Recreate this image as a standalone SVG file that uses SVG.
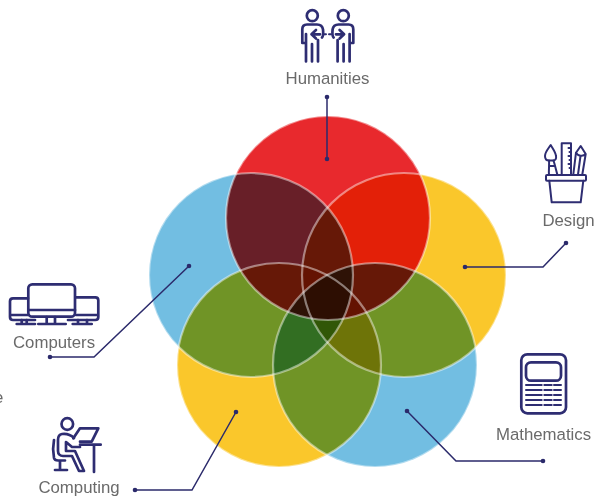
<svg xmlns="http://www.w3.org/2000/svg" width="604" height="497" viewBox="0 0 604 497">
<style>
.c{mix-blend-mode:multiply}
.edge{fill:none;stroke:#fff;stroke-opacity:.45;stroke-width:2.2}
.red{fill:#E8292D}.blue{fill:#72BEE2}.yel{fill:#FAC72B}
.lab{font-family:"Liberation Sans",Arial,sans-serif;font-size:16.8px;fill:#6A6A6A;text-anchor:middle}
.ic{fill:none;stroke:#2E2D72;stroke-width:2.7;stroke-linecap:round;stroke-linejoin:round}
.th{stroke-width:2}
.ln{fill:none;stroke:#2B2A6B;stroke-width:1.5}
.dot{fill:#2B2A6B}
</style>
<rect width="604" height="497" fill="#fff"/>
<g id="venn">
<circle class="c blue" cx="251" cy="275" r="102"/>
<circle class="c yel" cx="404" cy="275" r="102"/>
<circle class="c yel" cx="279" cy="365" r="102"/>
<circle class="c blue" cx="375" cy="365" r="102"/>
<circle class="c red" cx="328" cy="218" r="102"/>
<circle class="edge" cx="251" cy="275" r="102"/>
<circle class="edge" cx="404" cy="275" r="102"/>
<circle class="edge" cx="279" cy="365" r="102"/>
<circle class="edge" cx="375" cy="365" r="102"/>
<circle class="edge" cx="328" cy="218" r="102"/>
</g>
<g id="connectors">
<path class="ln" d="M327 97V159"/><circle class="dot" cx="327" cy="97" r="2.300"/><circle class="dot" cx="327" cy="159" r="2.300"/>
<path class="ln" d="M566 243L543 267H465"/><circle class="dot" cx="566" cy="243" r="2.300"/><circle class="dot" cx="465" cy="267" r="2.300"/>
<path class="ln" d="M50 357H94L189 266"/><circle class="dot" cx="50" cy="357" r="2.300"/><circle class="dot" cx="189" cy="266" r="2.300"/>
<path class="ln" d="M135 490H192L236 412"/><circle class="dot" cx="135" cy="490" r="2.300"/><circle class="dot" cx="236" cy="412" r="2.300"/>
<path class="ln" d="M543 461H456L407 411"/><circle class="dot" cx="543" cy="461" r="2.300"/><circle class="dot" cx="407" cy="411" r="2.300"/>
</g>
<g id="humanities">
<g class="ic">
<circle cx="312.300" cy="15.700" r="5.500"/><circle cx="343.300" cy="15.700" r="5.500"/>
<path d="M322 37.500C323.500 36 323.500 34 323 29.500C322.500 26 320 24.500 317 24.500H307C304 24.500 302.300 26.500 302.300 29.500V43H306M306 34V61.500M312 44V61.500M318 40V61.500"/>
<path d="M333.600 37.500C332.100 36 332.100 34 332.600 29.500C333.100 26 335.600 24.500 338.600 24.500H348.600C351.600 24.500 353.300 26.500 353.300 29.500V43H349.600M349.600 34V61.500M343.600 44V61.500M337.600 40V61.500"/>
<path d="M316 30L311.500 34.300L316 38.500M312 34.300H320M339.600 30L344.100 34.300L339.600 38.500M344 34.300H336"/>
<path class="th" d="M324 34.300H326M329 34.300H331"/>
</g>
<text class="lab" x="327.500" y="83.500">Humanities</text>
</g>
<g id="design">
<g class="ic th">
<rect x="546" y="175" width="40" height="5.700" rx="1"/>
<path d="M549.300 180.700L551.700 202.300H580.700L583.300 180.700"/>
<path d="M561.700 175V143.300H571V175M571 148H568.500M571 152H569.500M571 156H568.500M571 160H569.500M571 164H568.500M571 168H569.500"/>
<path d="M550.700 145C548 149 545 152 545 156C545 159.500 547 160.500 549 160.500H553C555.500 160.500 556.500 158.500 556 156C555.500 152 553 149 550.700 145Z"/>
<path d="M549 160.500C549.500 165 548.500 170 549 175M553.500 160.500C555 165 556 170 557.500 175M549 166H554.500"/>
<path d="M573.300 174.500L576 152.700L580.700 146L585.700 154L582.300 174.500M576 152.700C578 156 583 157 585.700 154M580.500 156L578 174.500"/>
</g>
<text class="lab" x="568.500" y="225.500">Design</text>
</g>
<g id="computers">
<g class="ic">
<rect x="28.300" y="284.300" width="46.700" height="32.400" rx="4"/>
<path d="M28.300 310H75"/>
<path d="M28 298.300H13C11 298.300 10 299.300 10 301.300V317C10 319 11 320 13 320H35M10 315H28"/>
<path d="M76 297.300H95.300C97.300 297.300 98.300 298.300 98.300 300.300V317C98.300 319 97.300 320 95.300 320H68M76 315H98.300"/>
<path d="M46.700 317V324M55 317V324M38.300 324H65.700M21.700 320V324M26.700 320V324M16.700 324H35M78 320V324M87 320V324M72.700 324H91.700"/>
</g>
<text class="lab" x="54" y="348">Computers</text>
</g>
<g id="computing">
<g class="ic">
<circle cx="67.300" cy="424" r="5.800"/>
<path d="M73.300 438.300L80 428.300H98.300L91.700 441.700H80M80 444.700H100.700M94 444.700V472"/>
<path d="M74 438C71 435 66 433.500 62 434C59 434.500 58 437 58 440V451C58 454 60 456 63 456H72L79 471H84L75 451H66V442L72 447H80"/>
<path d="M54 440C53 445 53 453 54 458C54.500 460 56 460.500 58 460.500H65M60 460.500V470M55 470H67"/>
</g>
<text class="lab" x="79" y="493">Computing</text>
</g>
<g id="mathematics">
<g class="ic">
<rect x="521.300" y="354.300" width="44.700" height="59" rx="6"/>
<rect x="526" y="362.300" width="35" height="18.400" rx="5"/>
<path class="th" d="M526 385H541.700M544.300 385H551.700M554 385H561M526 390H541.700M544.300 390H551.700M554 390H561M526 395H541.700M544.300 395H551.700M554 395H561M526 400H541.700M544.300 400H551.700M554 400H561M526 405H541.700M544.300 405H551.700M554 405H561"/>
</g>
<text class="lab" x="543.500" y="440">Mathematics</text>
</g>
<text class="lab" x="-6" y="403" style="text-anchor:start">e</text>
</svg>
